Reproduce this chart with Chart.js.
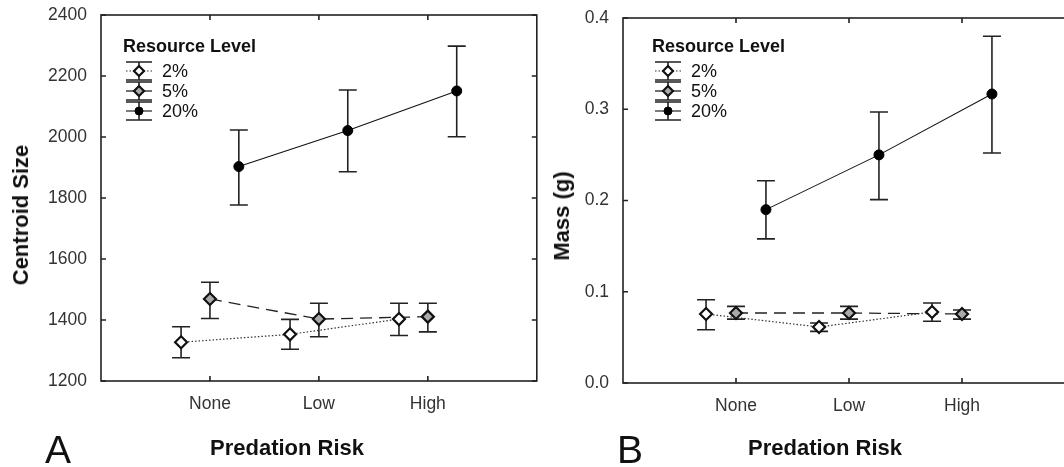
<!DOCTYPE html>
<html>
<head>
<meta charset="utf-8">
<script src="https://cdn.jsdelivr.net/npm/chart.js@4/dist/chart.umd.min.js"></script>
<style>
  html, body { margin: 0; padding: 0; background: #fff; overflow: hidden; }
  body { width: 1064px; height: 467px; position: relative; font-family: "Liberation Sans", Arial, sans-serif; color: #111; }
  canvas { position: absolute; top: 0; }
  .lbl { position: absolute; line-height: 1; white-space: nowrap; }
  .xt { font-weight: bold; font-size: 22px; }
  .yt { font-weight: bold; font-size: 22px; transform: translate(-50%, -50%) rotate(-90deg); }
  .pan { font-size: 39px; }
</style>
</head>
<body>
<canvas id="chartA" width="545" height="467" style="left:0"></canvas>
<canvas id="chartB" width="560" height="467" style="left:540px"></canvas>
<div class="lbl yt" style="left:21px; top:215px">Centroid Size</div>
<div class="lbl yt" style="left:562px; top:216px">Mass (g)</div>
<div class="lbl xt" style="left:210px; top:437px">Predation Risk</div>
<div class="lbl xt" style="left:748px; top:437px">Predation Risk</div>
<div class="lbl pan" style="left:45px; top:430px">A</div>
<div class="lbl pan" style="left:617px; top:430px">B</div>
<script>
// predation risk categories and resource levels
const categories = ['None', 'Low', 'High'];
const levels = ['2%', '5%', '20%'];

// panel A: centroid size (mean, upper and lower error bar ends)
const size2 = [1327, 1353, 1403];
const size2Hi = [1378, 1402, 1455];
const size2Lo = [1276, 1304, 1349];
const size5 = [1469, 1403, 1411];
const size5Hi = [1524, 1455, 1455];
const size5Lo = [1405, 1345, 1361];
const size20 = [1903, 2021, 2151];
const size20Hi = [2023, 2154, 2298];
const size20Lo = [1777, 1886, 2001];

// panel B: mass in grams
const mass2 = [0.0756, 0.0614, 0.0778];
const mass2Hi = [0.0913, 0.0657, 0.0877];
const mass2Lo = [0.0584, 0.0566, 0.0676];
const mass5 = [0.0767, 0.0767, 0.0756];
const mass5Hi = [0.084, 0.084, 0.080];
const mass5Lo = [0.070, 0.070, 0.070];
const mass20 = [0.190, 0.250, 0.3167];
const mass20Hi = [0.2217, 0.297, 0.380];
const mass20Lo = [0.158, 0.201, 0.252];

// y tick labels
const sizeTicks = [1200, 1400, 1600, 1800, 2000, 2200, 2400];
const massTicks = ['0.0', '0.1', '0.2', '0.3', '0.4'];

Chart.defaults.font.family = '"Liberation Sans", Arial, sans-serif';
Chart.defaults.color = '#333';

// horizontal dodge of each resource level around the category
const dodge = [-0.265, 0, 0.265];

const looks = [
  { borderColor: '#333', borderWidth: 1.2, borderDash: [1.5, 2], pointStyle: 'rectRot', pointRadius: 6,
    pointBackgroundColor: '#fff', pointBorderColor: '#111', pointBorderWidth: 2.2 },
  { borderColor: '#222', borderWidth: 1.3, borderDash: [12, 7], pointStyle: 'rectRot', pointRadius: 6,
    pointBackgroundColor: '#aaa', pointBorderColor: '#111', pointBorderWidth: 2.2 },
  { borderColor: '#111', borderWidth: 1.1, borderDash: [], pointStyle: 'circle', pointRadius: 5,
    pointBackgroundColor: '#000', pointBorderColor: '#000', pointBorderWidth: 1 }
];

function makeSets(means, his, los) {
  return levels.map((lv, k) => Object.assign({
    label: lv,
    data: means[k].map((v, j) => ({ x: j + 1 + dodge[k], y: v })),
    hi: his[k],
    lo: los[k],
    tension: 0,
    fill: false
  }, looks[k]));
}

const errorBars = {
  id: 'errorBars',
  beforeDatasetsDraw(chart) {
    const { ctx, scales: { y } } = chart;
    ctx.save();
    ctx.strokeStyle = '#222';
    ctx.lineWidth = 1.6;
    ctx.beginPath();
    chart.data.datasets.forEach((ds, i) => {
      chart.getDatasetMeta(i).data.forEach((pt, j) => {
        const top = y.getPixelForValue(ds.hi[j]);
        const bot = y.getPixelForValue(ds.lo[j]);
        ctx.moveTo(pt.x, top); ctx.lineTo(pt.x, bot);
        ctx.moveTo(pt.x - 9, top); ctx.lineTo(pt.x + 9, top);
        ctx.moveTo(pt.x - 9, bot); ctx.lineTo(pt.x + 9, bot);
      });
    });
    ctx.stroke();
    ctx.restore();
  }
};

const frame = {
  id: 'frame',
  beforeDatasetsDraw(chart) {
    const { ctx, chartArea: a, scales: { x, y } } = chart;
    ctx.save();
    ctx.strokeStyle = '#222';
    ctx.lineWidth = 1.6;
    ctx.strokeRect(a.left, a.top, a.right - a.left, a.bottom - a.top);
    ctx.beginPath();
    x.ticks.forEach(t => {
      const px = x.getPixelForValue(t.value);
      ctx.moveTo(px, a.bottom); ctx.lineTo(px, a.bottom - 5);
      ctx.moveTo(px, a.top); ctx.lineTo(px, a.top + 5);
    });
    y.ticks.forEach(t => {
      const py = y.getPixelForValue(t.value);
      ctx.moveTo(a.left, py); ctx.lineTo(a.left + 5, py);
      ctx.moveTo(a.right, py); ctx.lineTo(a.right - 5, py);
    });
    ctx.stroke();
    ctx.restore();
  }
};

// legend drawn inside the plot, with error-bar symbols
const boxLegend = {
  id: 'boxLegend',
  afterDraw(chart, args, opts) {
    const { ctx, chartArea: a } = chart;
    const x0 = a.left + opts.x, y0 = a.top + opts.y;
    ctx.save();
    ctx.fillStyle = '#111';
    ctx.textBaseline = 'middle';
    ctx.font = 'bold 18px "Liberation Sans", Arial, sans-serif';
    ctx.fillText('Resource Level', x0, y0);
    ctx.font = '18px "Liberation Sans", Arial, sans-serif';
    chart.data.datasets.forEach((ds, i) => {
      const cy = y0 + 24 + i * 20;
      const cx = x0 + 16;
      ctx.strokeStyle = '#222';
      ctx.lineWidth = 1.6;
      ctx.setLineDash([]);
      ctx.beginPath();
      ctx.moveTo(cx - 13, cy - 9); ctx.lineTo(cx + 13, cy - 9);
      ctx.moveTo(cx - 13, cy + 9); ctx.lineTo(cx + 13, cy + 9);
      ctx.moveTo(cx, cy - 9); ctx.lineTo(cx, cy + 9);
      ctx.stroke();
      ctx.lineWidth = ds.borderWidth;
      ctx.strokeStyle = ds.borderColor;
      ctx.setLineDash(i === 1 ? [] : ds.borderDash);
      ctx.beginPath();
      ctx.moveTo(cx - 13, cy); ctx.lineTo(cx + 13, cy);
      ctx.stroke();
      ctx.setLineDash([]);
      ctx.fillStyle = ds.pointBackgroundColor;
      ctx.strokeStyle = ds.pointBorderColor;
      ctx.lineWidth = ds.pointBorderWidth;
      Chart.helpers.drawPoint(ctx, { pointStyle: ds.pointStyle, radius: ds.pointRadius - 1, rotation: 0, borderWidth: ds.pointBorderWidth }, cx, cy);
      ctx.fillStyle = '#111';
      ctx.fillText(ds.label, x0 + 39, cy + 1);
    });
    ctx.restore();
  }
};

function panel(id, sets, yMin, yMax, step, yLabel, yWidth, xHeight, pad, leg) {
  return new Chart(document.getElementById(id), {
    type: 'line',
    data: { datasets: sets },
    plugins: [frame, errorBars, boxLegend],
    options: {
      responsive: false,
      animation: false,
      devicePixelRatio: 1,
      layout: { padding: pad },
      plugins: { legend: { display: false }, tooltip: { enabled: false }, boxLegend: leg },
      scales: {
        x: {
          type: 'linear', min: 0, max: 4,
          grid: { display: false, drawTicks: false }, border: { display: false },
          afterBuildTicks: s => { s.ticks = categories.map((c, i) => ({ value: i + 1 })); },
          afterFit: s => { s.height = xHeight; s.paddingLeft = 0; s.paddingRight = 0; },
          ticks: { autoSkip: false, padding: 13, font: { size: 17.5 }, callback: v => categories[v - 1] }
        },
        y: {
          min: yMin, max: yMax,
          grid: { display: false, drawTicks: false }, border: { display: false },
          afterFit: s => { s.width = yWidth; s.paddingTop = 0; s.paddingBottom = 0; },
          ticks: { stepSize: step, padding: 14, font: { size: 17.5 }, callback: yLabel }
        }
      }
    }
  });
}

panel('chartA',
  makeSets([size2, size5, size20], [size2Hi, size5Hi, size20Hi], [size2Lo, size5Lo, size20Lo]),
  sizeTicks[0], sizeTicks[sizeTicks.length - 1], 200, v => v,
  101, 86, { left: 0, right: 8, top: 15, bottom: 0 }, { x: 22, y: 32 });

panel('chartB',
  makeSets([mass2, mass5, mass20], [mass2Hi, mass5Hi, mass20Hi], [mass2Lo, mass5Lo, mass20Lo]),
  Number(massTicks[0]), Number(massTicks[massTicks.length - 1]), 0.1, v => v.toFixed(1),
  83, 84, { left: 0, right: 25, top: 18, bottom: 0 }, { x: 29, y: 29 });
</script>
</body>
</html>
